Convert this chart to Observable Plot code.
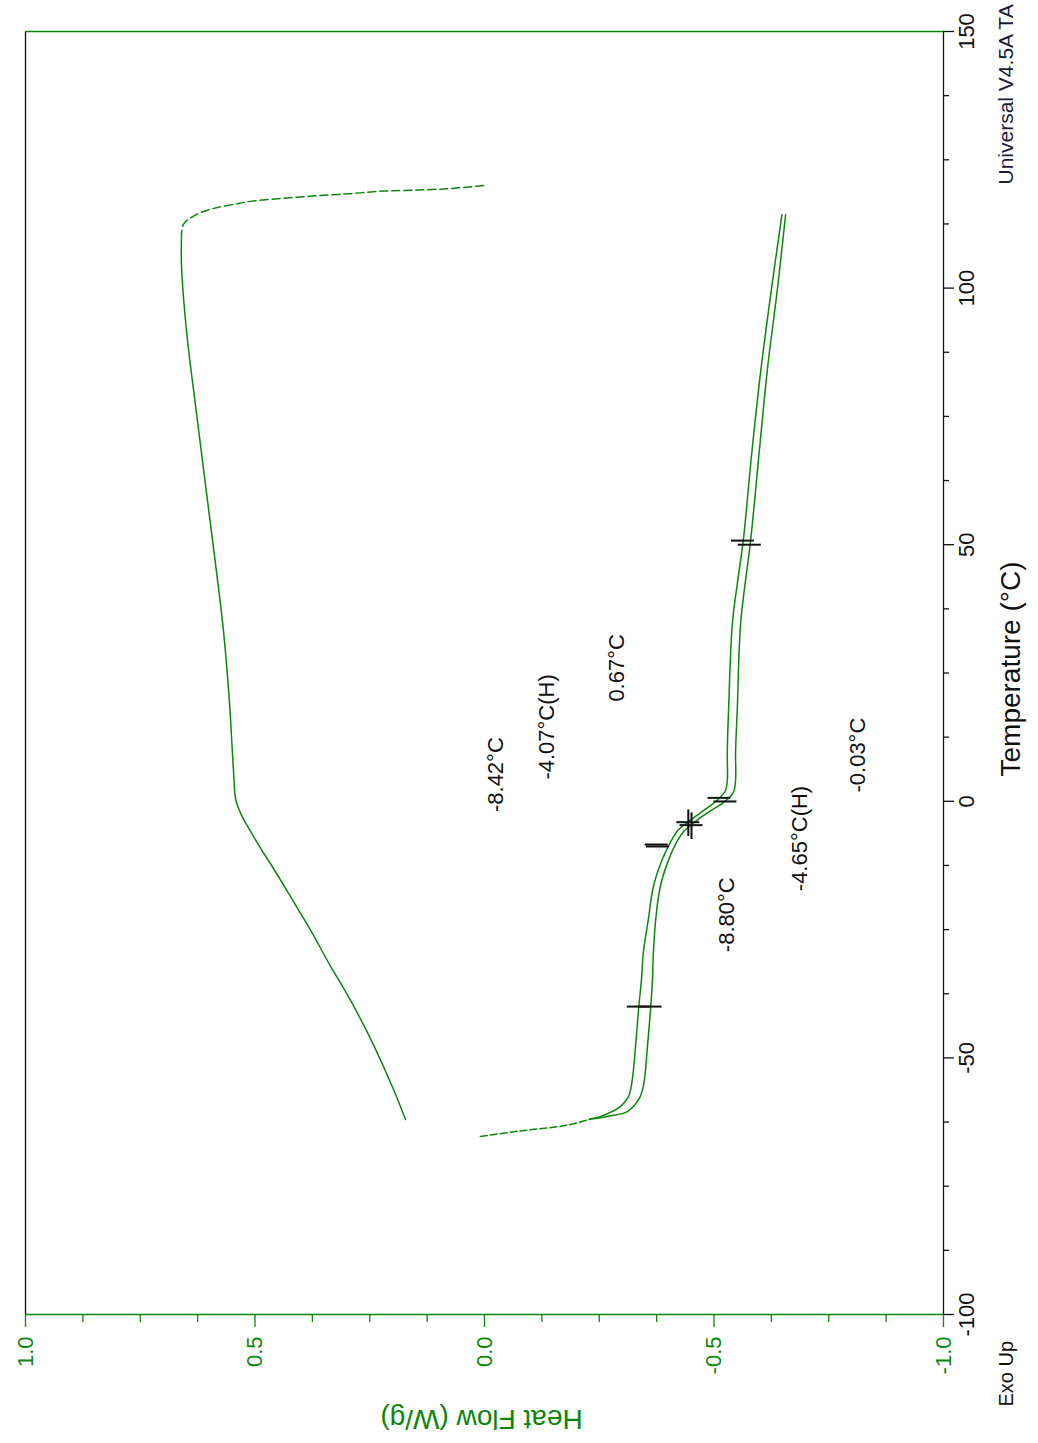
<!DOCTYPE html>
<html>
<head>
<meta charset="utf-8">
<script src="https://cdn.jsdelivr.net/npm/d3@7"></script>
<script src="https://cdn.jsdelivr.net/npm/@observablehq/plot@0.6"></script>
<style>
  html, body { margin: 0; padding: 0; background: #fff; overflow: hidden; }
  #page { position: relative; width: 1038px; height: 1443px; overflow: hidden; background: #fff; }
  /* The DSC plot is laid out landscape and turned a quarter turn, as the instrument prints it */
  #page svg {
    position: absolute; left: 0; top: 0;
    width: 1443px; height: 1038px; max-width: none;
    transform-origin: 0 0;
    transform: translate(0px, 1443px) rotate(-90deg);
  }
</style>
</head>
<body>
<div id="page"></div>
<script>
// ---- Cooling scan: quench transient from 120 °C, then the cooling trace ----
const coolQuenchTemp = [120.0, 119.4, 119.1, 118.9, 118.4, 118.0, 117.5, 116.9, 116.3, 115.7, 114.7, 113.4, 112.4, 110.8];
const coolQuenchFlow = [0.002, 0.074, 0.146, 0.220, 0.292, 0.364, 0.438, 0.510, 0.547, 0.582, 0.619, 0.645, 0.656, 0.660];

const coolTemp = [110.8, 104.0, 91.5, 80.2, 68.2, 56.1, 44.8, 33.5, 19.8, 6.2, 0.35, -2.2, -4.9, -9.4, -12.9, -18.2, -21.5, -25.4, -32.2, -36.7, -41.9, -47.8, -56.2, -62.0];
const coolFlow = [0.660, 0.660, 0.649, 0.634, 0.617, 0.600, 0.584, 0.569, 0.556, 0.547, 0.542, 0.532, 0.516, 0.486, 0.461, 0.425, 0.403, 0.377, 0.335, 0.305, 0.273, 0.240, 0.198, 0.172];

// ---- Heating scans: common start-up transient ----
const heatStartTemp = [-65.3, -64.3, -63.1, -61.9];
const heatStartFlow = [0.009, -0.072, -0.181, -0.231];

// ---- Heating scan 1 ----
const heat1Temp = [-61.9, -61.4, -59.5, -57.5, -54.2, -47.8, -40.2, -34.7, -29.5, -23.0, -16.6, -11.4, -8.0, -5.5, -4.0, -2.2, 0.2, 2.1, 4.1, 9.5, 18.5, 34.6, 43.2, 51.0, 68.5, 84.7, 99.7, 114.3];
const heat1Flow = [-0.231, -0.253, -0.296, -0.314, -0.322, -0.329, -0.336, -0.342, -0.346, -0.357, -0.368, -0.387, -0.405, -0.423, -0.444, -0.471, -0.507, -0.525, -0.529, -0.529, -0.532, -0.540, -0.552, -0.564, -0.583, -0.603, -0.625, -0.648];

// ---- Heating scan 2 ----
const heat2Temp = [-61.9, -61.4, -60.4, -58.1, -55.6, -47.8, -40.2, -34.7, -29.5, -23.0, -16.6, -11.9, -8.4, -5.9, -3.9, -2.2, -0.2, 1.7, 4.1, 9.5, 18.5, 34.6, 51.0, 68.5, 84.7, 99.7, 114.3];
const heat2Flow = [-0.231, -0.268, -0.312, -0.336, -0.346, -0.355, -0.362, -0.366, -0.368, -0.373, -0.383, -0.399, -0.416, -0.434, -0.460, -0.486, -0.521, -0.542, -0.547, -0.547, -0.551, -0.558, -0.580, -0.599, -0.617, -0.638, -0.656];

// ---- Glass transition analysis (onset, half height, end) for each heating scan ----
const onsetTemps = [-8.42, -8.80];
const onsetFlows = [-0.375, -0.378];
const halfTemps = [-4.07, -4.65];
const halfFlows = [-0.444, -0.451];
const endTemps = [0.67, -0.03];
const endFlows = [-0.512, -0.525];
// Baseline limits chosen for the analysis
const limitTemps = [-40, -40, 50.8, 50.0];
const limitFlows = [-0.336, -0.362, -0.563, -0.578];

// Where the result labels sit (temperature, heat flow)
const onsetLabelAt = [[5.2, -0.024], [-22.1, -0.529]];
const halfLabelAt = [[14.5, -0.137], [-7.25, -0.688]];
const endLabelAt = [[26.0, -0.288], [9.0, -0.813]];

// ---- Axis ticks ----
const tempTicks = [-100, -50, 0, 50, 100, 150];
const tempMinor = [-87.5, -75, -62.5, -37.5, -25, -12.5, 12.5, 25, 37.5, 62.5, 75, 87.5, 112.5, 125, 137.5];
const flowTicks = [-1, -0.5, 0, 0.5, 1];
const flowMinor = [-0.875, -0.75, -0.625, -0.375, -0.25, -0.125, 0.125, 0.25, 0.375, 0.625, 0.75, 0.875];

const GREEN = "#0b870b";
const INK = "#111111";
const FONT = "Arial, 'Liberation Sans', sans-serif";
const MARK_HALF = 0.025;   // half length of an analysis tick, in W/g
const CROSS_HALF = 2.6;    // half length of the half-height cross arm, in °C

const pts = (ts, fs) => ts.map((T, i) => ({T, hf: fs[i]}));

const coolQuench = pts(coolQuenchTemp, coolQuenchFlow);
const cool = pts(coolTemp, coolFlow);
const heatStart = pts(heatStartTemp, heatStartFlow);
const heat1 = pts(heat1Temp, heat1Flow);
const heat2 = pts(heat2Temp, heat2Flow);

const tickRows = [
  ...pts(limitTemps, limitFlows),
  ...pts(onsetTemps, onsetFlows),
  ...pts(halfTemps, halfFlows),
  ...pts(endTemps, endFlows)
];
const halfRows = pts(halfTemps, halfFlows);

const fmt = (t) => t.toFixed(2) + "°C";
const labels = [
  ...onsetTemps.map((t, i) => ({text: fmt(t), T: onsetLabelAt[i][0], hf: onsetLabelAt[i][1]})),
  ...halfTemps.map((t, i) => ({text: fmt(t) + "(H)", T: halfLabelAt[i][0], hf: halfLabelAt[i][1]})),
  ...endTemps.map((t, i) => ({text: fmt(t), T: endLabelAt[i][0], hf: endLabelAt[i][1]}))
];

const trace = {x: "T", y: "hf", stroke: GREEN, strokeWidth: 1.5, curve: "catmull-rom"};

const chart = Plot.plot({
  width: 1443,
  height: 1038,
  marginLeft: 128,
  marginRight: 32,
  marginTop: 25,
  marginBottom: 95,
  x: {domain: [-100, 150], axis: null, label: null},
  y: {domain: [-1, 1], axis: null, label: null},
  style: {background: "white", fontFamily: FONT, color: INK},
  marks: [
    // frame: temperature edges in black, heat-flow edges in green
    Plot.ruleY([-1, 1], {stroke: INK, strokeWidth: 1.3}),
    Plot.ruleX([-100, 150], {stroke: GREEN, strokeWidth: 1.3}),

    // temperature axis
    Plot.axisX(tempMinor, {anchor: "bottom", tickSize: 6, stroke: INK, strokeWidth: 1.3, fill: "none", label: null}),
    Plot.axisX(tempTicks, {anchor: "bottom", tickSize: 11, tickPadding: 4, stroke: INK, strokeWidth: 1.3,
      fill: INK, fontSize: 22, tickFormat: (d) => String(d), label: null}),

    // heat flow axis
    Plot.axisY(flowMinor, {anchor: "left", tickSize: 7, stroke: GREEN, strokeWidth: 1.3, fill: "none", label: null}),
    Plot.axisY(flowTicks, {anchor: "left", tickSize: 12, tickPadding: 10, stroke: GREEN, strokeWidth: 1.3,
      fill: GREEN, fontSize: 22, tickFormat: (d) => d.toFixed(1), label: null}),

    // axis titles and instrument notes
    Plot.text(["Temperature (°C)"], {text: (d) => d, frameAnchor: "bottom", dx: 4, dy: 57,
      lineAnchor: "top", fontSize: 28, fill: INK}),
    Plot.text(["Heat Flow (W/g)"], {text: (d) => d, frameAnchor: "left", rotate: -90, dx: -115, dy: -3,
      textAnchor: "middle", lineAnchor: "top", fontSize: 28, fill: GREEN}),
    Plot.text(["Exo Up"], {text: (d) => d, frameAnchor: "bottom-left", dx: -92, dy: 55,
      textAnchor: "start", lineAnchor: "top", fontSize: 20, fill: INK}),
    Plot.text(["Universal V4.5A TA"], {text: (d) => d, frameAnchor: "bottom-right", dx: -153, dy: 55,
      textAnchor: "start", lineAnchor: "top", fontSize: 21, fill: "#1b1b3a"}),

    // cooling scan
    Plot.line(coolQuench, {...trace, strokeDasharray: "8,4"}),
    Plot.line(cool, trace),

    // heating scans
    Plot.line(heatStart, {...trace, strokeDasharray: "7,3"}),
    Plot.line(heat1, trace),
    Plot.line(heat2, trace),

    // analysis ticks
    Plot.ruleX(tickRows, {x: "T", y1: (d) => d.hf - MARK_HALF, y2: (d) => d.hf + MARK_HALF, stroke: INK, strokeWidth: 2}),
    Plot.ruleY(halfRows, {y: "hf", x1: (d) => d.T - CROSS_HALF, x2: (d) => d.T + CROSS_HALF, stroke: INK, strokeWidth: 2}),

    // analysis results
    Plot.text(labels, {x: "T", y: "hf", text: "text", fontSize: 22, fill: INK})
  ]
});

document.getElementById("page").appendChild(chart);
</script>
</body>
</html>
